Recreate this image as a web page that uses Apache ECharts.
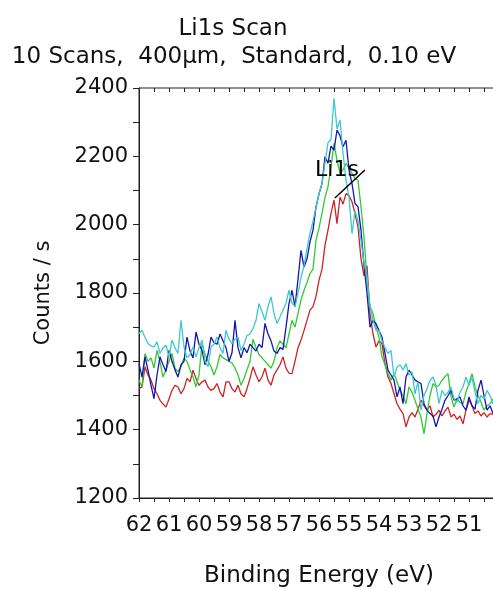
<!DOCTYPE html>
<html><head><meta charset="utf-8">
<script src="https://cdn.jsdelivr.net/npm/echarts@6/dist/echarts.min.js"></script>
<style>html,body{margin:0;padding:0;background:#fff}#c{width:493px;height:590px}</style>
</head><body><div id="c"></div>
<script>
const titleLines = ['Li1s Scan', '10 Scans,  400\u00b5m,  Standard,  0.10 eV'];
const xName = 'Binding Energy (eV)';
const yName = 'Counts / s';
const eStart = 62.0, eStep = 0.1, nPts = 119;   // 62.0 -> 50.2 eV

const cyanCounts = [
1681,1691,1670,1652,1645,1642,1657,1623,1640,1647,
1613,1662,1640,1623,1720,1642,1610,1620,1642,1613,
1640,1662,1600,1584,1642,1650,1671,1640,1623,1691,
1665,1652,1665,1671,1632,1650,1676,1680,1696,1720,
1769,1745,1720,1760,1789,1740,1711,1730,1750,1770,
1808,1770,1760,1800,1845,1880,1930,1975,2010,2050,
2090,2120,2180,2240,2250,2370,2280,2306,2209,2130,
2081,1974,2040,2010,1954,1890,1847,1760,1720,1691,
1690,1660,1640,1623,1632,1554,1583,1590,1575,1593,
1560,1570,1505,1540,1457,1500,1520,1544,1554,1530,
1476,1515,1500,1510,1525,1490,1480,1510,1525,1554,
1530,1554,1510,1476,1500,1490,1515,1500,1476];

const blueCounts = [
1593,1554,1613,1574,1530,1491,1560,1613,1590,1570,
1632,1600,1575,1554,1590,1600,1671,1630,1610,1686,
1650,1632,1590,1620,1671,1655,1650,1680,1660,1640,
1600,1625,1720,1640,1610,1640,1625,1650,1640,1630,
1650,1640,1711,1680,1660,1630,1623,1640,1635,1700,
1769,1808,1760,1840,1925,1876,1900,1950,1984,2052,
2090,2120,2199,2180,2230,2218,2277,2260,2228,2247,
2160,2120,2062,2052,1984,1880,1800,1700,1720,1710,
1690,1671,1623,1574,1560,1545,1496,1525,1476,1554,
1574,1560,1545,1540,1535,1476,1457,1447,1440,1408,
1437,1460,1486,1500,1515,1486,1490,1496,1470,1457,
1496,1470,1460,1515,1545,1500,1457,1470,1447];

const greenCounts = [
1545,1525,1623,1600,1610,1580,1632,1600,1554,1575,
1600,1623,1580,1570,1584,1610,1600,1575,1554,1525,
1560,1652,1620,1600,1584,1560,1584,1620,1610,1605,
1600,1595,1580,1560,1530,1550,1575,1600,1665,1640,
1620,1610,1600,1590,1580,1600,1640,1660,1650,1640,
1680,1720,1700,1740,1780,1808,1830,1857,1870,1954,
1990,2033,2080,2111,2169,2238,2189,2150,2160,2179,
2165,2150,2135,2130,2052,1964,1840,1760,1740,1700,
1671,1613,1590,1564,1545,1564,1540,1515,1500,1476,
1525,1510,1486,1460,1437,1388,1447,1500,1535,1525,
1530,1544,1555,1564,1496,1466,1490,1480,1476,1510,
1535,1564,1525,1500,1480,1457,1470,1476,1490];

const redCounts = [
1520,1525,1584,1560,1545,1520,1505,1486,1475,1466,
1490,1515,1530,1525,1505,1520,1550,1540,1574,1550,
1530,1540,1545,1525,1515,1520,1535,1510,1496,1540,
1540,1520,1510,1530,1505,1496,1520,1550,1584,1560,
1540,1555,1580,1545,1530,1560,1575,1590,1613,1580,
1565,1564,1600,1640,1662,1690,1720,1750,1760,1790,
1837,1870,1940,1984,2033,2072,2003,2081,2060,2091,
2085,2067,2033,1993,1900,1850,1880,1740,1680,1642,
1660,1652,1593,1554,1535,1505,1476,1460,1447,1408,
1437,1450,1437,1460,1486,1470,1457,1470,1437,1445,
1457,1440,1455,1466,1437,1445,1430,1440,1417,1457,
1486,1470,1447,1455,1440,1450,1437,1447,1445];

const peakLabel = 'Li1s';
const peakLabelAt = [55.4, 2160];
const peakLeader = [[55.47, 2078], [54.47, 2160]];

const energies = [];
for (let i = 0; i < nPts; i++) energies.push(+(eStart - i * eStep).toFixed(1));
const pairs = arr => energies.map((e, i) => [e, arr[i]]);

const FONT = 'DejaVu Sans';
const AX = '#222';

const chart = echarts.init(document.getElementById('c'), null, {renderer: 'canvas'});

function mkSeries(name, arr, color, extra) {
  return Object.assign({
    name, type: 'line', data: pairs(arr), showSymbol: false, symbol: 'none',
    lineStyle: {color, width: 1.3}, itemStyle: {color}, animation: false, z: 3
  }, extra || {});
}

chart.setOption({
  animation: false,
  backgroundColor: '#fff',
  graphic: [
    {type: 'text', x: 233, y: 29, style: {text: titleLines[0], font: '23px "DejaVu Sans"', fill: '#111', align: 'center', verticalAlign: 'middle'}},
    {type: 'text', x: 234, y: 57, style: {text: titleLines[1], font: '23px "DejaVu Sans"', fill: '#111', align: 'center', verticalAlign: 'middle'}}
  ],
  grid: {left: 139, top: 88, width: 360, height: 410, show: true, borderColor: AX, borderWidth: 1,
         backgroundColor: 'transparent', containLabel: false, outerBoundsMode: 'none'},
  xAxis: [
    {type: 'value', inverse: true, min: 50, max: 62, interval: 0.5, position: 'bottom',
     axisLine: {show: true, onZero: false, lineStyle: {color: AX, width: 1}},
     axisTick: {show: true, inside: false, length: 4, lineStyle: {color: AX, width: 1}},
     axisLabel: {formatter: v => (Math.abs(v - Math.round(v)) < 1e-6 && Math.round(v) !== 50) ? String(Math.round(v)) : '',
                 fontFamily: FONT, fontSize: 21, color: '#111', margin: 17},
     splitLine: {show: false},
     name: xName, nameLocation: 'middle', nameGap: 67,
     nameTextStyle: {fontFamily: FONT, fontSize: 23, color: '#111'}},
    {type: 'value', inverse: true, min: 50, max: 62, interval: 0.5, position: 'bottom', offset: -410,
     axisLine: {show: false, onZero: false}, axisTick: {show: true, inside: false, length: 4, lineStyle: {color: AX, width: 1}},
     axisLabel: {show: false}, splitLine: {show: false}}
  ],
  yAxis: [
    {type: 'value', min: 1200, max: 2400, interval: 100, position: 'left',
     axisLine: {show: true, onZero: false, lineStyle: {color: AX, width: 1}},
     axisTick: {show: true, inside: false, length: 6, lineStyle: {color: AX, width: 1}},
     axisLabel: {formatter: v => (v % 200 === 0 ? String(v) : ''), fontFamily: FONT, fontSize: 21, color: '#111', margin: 11},
     splitLine: {show: false},
     name: yName, nameLocation: 'middle', nameGap: 85,
     nameTextStyle: {fontFamily: FONT, fontSize: 21, color: '#111'}},
    {type: 'value', min: 1200, max: 2400, interval: 100, position: 'left', offset: -360,
     axisLine: {show: false, onZero: false}, axisTick: {show: true, inside: false, length: 6, lineStyle: {color: AX, width: 1}},
     axisLabel: {show: false}, splitLine: {show: false}}
  ],
  series: [
    mkSeries('red', redCounts, '#c82424'),
    mkSeries('green', greenCounts, '#34c834'),
    mkSeries('blue', blueCounts, '#1414b0'),
    mkSeries('cyan', cyanCounts, '#3cc8cf', {
      markPoint: {silent: true, symbol: 'circle', symbolSize: 0, animation: false,
        label: {show: true, position: 'inside', formatter: peakLabel, fontFamily: FONT, fontSize: 22, color: '#000'},
        data: [{coord: peakLabelAt}]},
      markLine: {silent: true, symbol: ['none', 'none'], animation: false,
        lineStyle: {color: '#000', width: 1.5, type: 'solid'}, label: {show: false},
        data: [[{coord: peakLeader[0]}, {coord: peakLeader[1]}]]}
    })
  ]
});
</script></body></html>
